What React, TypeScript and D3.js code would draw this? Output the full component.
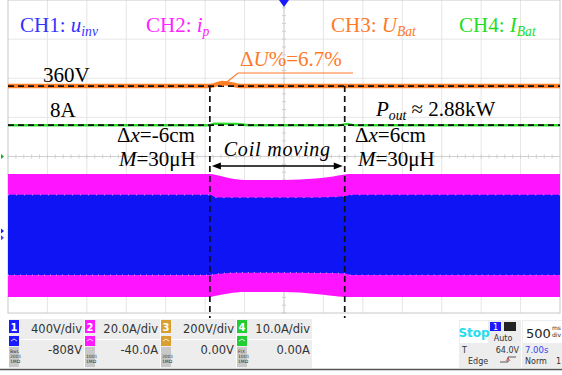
import React, { useEffect, useRef } from 'react';
import * as d3 from 'd3';

// time base: 500 ms/div, 14 divisions -> 7 s on screen
const timeS = [0, 2.56, 2.64, 2.8, 3.0, 3.5, 3.9, 4.1, 4.27, 4.35, 7];
// CH2 primary current envelope (A)
const ipTop = [31, 31, 30.5, 29, 28, 28, 28.7, 29.6, 30.8, 31, 31];
const ipBottom = [-31.8, -31.8, -31.2, -30, -29.3, -29.3, -30.3, -31.2, -31.8, -31.8, -31.8];
// CH1 inverter voltage envelope (V)
const uinvTop = [400, 400, 372, 372, 372, 372, 374, 378, 385, 400, 400];
const uinvBottom = [-420, -420, -410, -398, -396, -396, -398, -400, -405, -420, -420];
// CH3 battery voltage (V)
const uBatTime = [0, 2.56, 2.72, 2.97, 7];
const uBat = [360, 360, 376, 360, 360];
// CH4 battery current (A)
const iBatTime = [0, 2.56, 2.62, 2.9, 3.05, 4.2, 4.3, 4.4, 7];
const iBat = [8, 8, 8.4, 8.3, 8, 8, 8.3, 8, 8];
// cursor positions (s)
const cursors = [2.56, 4.27];

const channels = [
  { n: '1', color: '#1a1aff', scale: '400V/div', offset: '-808V', note: ['BwL', '2001', '1MΩ'] },
  { n: '2', color: '#ff1aff', scale: '20.0A/div', offset: '-40.0A', note: ['', '1001', '1MΩ'] },
  { n: '3', color: '#d9a030', scale: '200V/div', offset: '0.00V', note: ['', '2001', '1MΩ'] },
  { n: '4', color: '#22cc33', scale: '10.0A/div', offset: '0.00A', note: ['FIX', '1001', '1MΩ'] },
];

const W = 562;
const H = 375;
const serif = '"Liberation Serif", "Times New Roman", serif';
const sans = '"DejaVu Sans", sans-serif';

export default function App() {
  const ref = useRef<SVGSVGElement>(null);

  useEffect(() => {
    const svg = d3.select(ref.current);
    svg.selectAll('*').remove();

    const left = 8, right = 560, top = 0, bottom = 313;
    const x = d3.scaleLinear().domain([0, 7]).range([left, right]);
    const div = d3.scaleLinear().domain([0, 8]).range([bottom, top]);
    const y1 = d3.scaleLinear().domain([-808, 8 * 400 - 808]).range([bottom, top]);
    const y2 = d3.scaleLinear().domain([-40, 160 - 40]).range([bottom, top]);
    const y3 = d3.scaleLinear().domain([-800, 800]).range([bottom, top]);
    const y4 = d3.scaleLinear().domain([-40, 40]).range([bottom, top]);

    svg.append('rect').attr('width', W).attr('height', H).attr('fill', '#fff');

    // grid
    const g = svg.append('g');
    d3.range(1, 14).forEach(i => {
      g.append('line').attr('x1', x(i * 0.5)).attr('x2', x(i * 0.5))
        .attr('y1', top).attr('y2', bottom).attr('stroke', '#e6e6e6');
    });
    d3.range(1, 8).forEach(i => {
      g.append('line').attr('x1', left).attr('x2', right)
        .attr('y1', div(i)).attr('y2', div(i)).attr('stroke', '#e6e6e6');
    });
    // centre axes with minor ticks
    const cx = x(3.5), cy = div(4);
    g.append('line').attr('x1', cx).attr('x2', cx).attr('y1', top).attr('y2', bottom).attr('stroke', '#d0d0d0');
    g.append('line').attr('x1', left).attr('x2', right).attr('y1', cy).attr('y2', cy).attr('stroke', '#d0d0d0');
    d3.range(0, 70).forEach(i => {
      const xx = x(i * 0.1);
      g.append('line').attr('x1', xx).attr('x2', xx).attr('y1', cy - 2).attr('y2', cy + 2).attr('stroke', '#d0d0d0');
    });
    d3.range(0, 40).forEach(i => {
      const yy = div(i * 0.2);
      g.append('line').attr('x1', cx - 2).attr('x2', cx + 2).attr('y1', yy).attr('y2', yy).attr('stroke', '#d0d0d0');
    });
    g.append('rect').attr('x', left).attr('y', top).attr('width', right - left).attr('height', bottom - top)
      .attr('fill', 'none').attr('stroke', '#c8c8c8');

    // envelopes
    const idx = d3.range(timeS.length);
    const area = (yS: d3.ScaleLinear<number, number>, hi: number[], lo: number[]) =>
      d3.area<number>().x(i => x(timeS[i])).y0(i => yS(lo[i])).y1(i => yS(hi[i])).curve(d3.curveMonotoneX)(idx);
    svg.append('path').attr('d', area(y2, ipTop, ipBottom)).attr('fill', '#ff14ff');
    svg.append('path').attr('d', area(y1, uinvTop, uinvBottom)).attr('fill', '#0f14f5');
    const edge = (yS: d3.ScaleLinear<number, number>, v: number[]) =>
      d3.line<number>().x(i => x(timeS[i])).y(i => yS(v[i])).curve(d3.curveMonotoneX)(idx);
    svg.append('path').attr('d', edge(y1, uinvTop)).attr('fill', 'none')
      .attr('stroke', '#e8d8ff').attr('stroke-width', 0.8).attr('stroke-dasharray', '1 7');
    svg.append('path').attr('d', edge(y1, uinvBottom)).attr('fill', 'none')
      .attr('stroke', '#e8d8ff').attr('stroke-width', 0.8).attr('stroke-dasharray', '1 5');

    // DC traces
    const trace = (ts: number[], vs: number[], yS: d3.ScaleLinear<number, number>) =>
      d3.line<number>().x(i => x(ts[i])).y(i => yS(vs[i])).curve(d3.curveMonotoneX)(d3.range(ts.length));
    svg.append('path').attr('d', trace(uBatTime, uBat, y3)).attr('fill', 'none')
      .attr('stroke', '#ff7f27').attr('stroke-width', 4.5);
    svg.append('path').attr('d', trace(iBatTime, iBat, y4)).attr('fill', 'none')
      .attr('stroke', '#2ee02e').attr('stroke-width', 2.5);

    // dashed reference lines
    [y3(360), y4(8)].forEach(yy => {
      svg.append('line').attr('x1', left).attr('x2', right).attr('y1', yy).attr('y2', yy)
        .attr('stroke', '#111').attr('stroke-width', 1.7).attr('stroke-dasharray', '6 4');
    });
    cursors.forEach(t => {
      svg.append('line').attr('x1', x(t)).attr('x2', x(t)).attr('y1', y3(360)).attr('y2', bottom + 5)
        .attr('stroke', '#111').attr('stroke-width', 1.7).attr('stroke-dasharray', '6 4');
    });

    // markers
    svg.append('path').attr('d', `M${cx - 5},0 L${cx + 5},0 L${cx},7 Z`).attr('fill', '#1a1aff');
    svg.append('path').attr('d', `M1,${cy - 2.5} L4,${cy} L1,${cy + 2.5} Z`).attr('fill', '#22aa22');
    [y1(0) - 3, y2(0) + 3].forEach((yy, i) => {
      svg.append('path').attr('d', `M1,${yy - 2.5} L4,${yy} L1,${yy + 2.5} Z`)
        .attr('fill', i === 0 ? '#1a1aff' : '#4444ff');
    });

    // annotation text
    const txt = (xx: number, yy: number, color: string, parts: [string, string][], size = 21, anchor = 'start') => {
      const t = svg.append('text').attr('x', xx).attr('y', yy).attr('fill', color)
        .attr('font-family', serif).attr('font-size', size).attr('text-anchor', anchor);
      parts.forEach(([s, st]) => {
        const sp = t.append('tspan').text(s);
        if (st.includes('i')) sp.attr('font-style', 'italic');
        if (st.includes('s')) sp.attr('font-size', size * 0.65).attr('dy', 4);
        if (st.includes('r')) sp.attr('dy', -4);
      });
      return t;
    };
    txt(20, 32, '#3333ff', [['CH1: ', ''], ['u', 'i'], ['inv', 'is']]);
    txt(146, 32, '#ff22ff', [['CH2: ', ''], ['i', 'i'], ['p', 'is']]);
    txt(331, 32, '#ff7a26', [['CH3: ', ''], ['U', 'i'], ['Bat', 'is']]);
    txt(459, 32, '#22dd22', [['CH4: ', ''], ['I', 'i'], ['Bat', 'is']]);

    txt(240, 66, '#ff7a26', [['Δ', ''], ['U', 'i'], ['%=6.7%', '']]);
    svg.append('path').attr('d', `M222,86 L238,73 L353,73`).attr('fill', 'none')
      .attr('stroke', '#ff7a26').attr('stroke-width', 1.2);

    txt(43, 82, '#000', [['360V', '']]);
    txt(50, 117, '#000', [['8A', '']]);
    txt(376, 116, '#000', [['P', 'i'], ['out', 'is'], [' ≈ 2.88kW', 'r']]);

    txt(117, 142, '#000', [['Δ', ''], ['x', 'i'], ['=-6cm', '']]);
    txt(119, 166, '#000', [['M', 'i'], ['=30μH', '']]);
    txt(355, 142, '#000', [['Δ', ''], ['x', 'i'], ['=6cm', '']]);
    txt(358, 166, '#000', [['M', 'i'], ['=30μH', '']]);
    txt((x(cursors[0]) + x(cursors[1])) / 2, 156, '#000', [['Coil moving', 'i']], 20, 'middle')
      .attr('letter-spacing', 0.8);

    // double arrow
    const ay = 166, ax0 = x(cursors[0]) + 2, ax1 = x(cursors[1]) - 2;
    svg.append('line').attr('x1', ax0 + 4).attr('x2', ax1 - 4).attr('y1', ay).attr('y2', ay)
      .attr('stroke', '#000').attr('stroke-width', 1.3);
    svg.append('path').attr('d', `M${ax0},${ay} L${ax0 + 9},${ay - 3.5} L${ax0 + 9},${ay + 3.5} Z`).attr('fill', '#000');
    svg.append('path').attr('d', `M${ax1},${ay} L${ax1 - 9},${ay - 3.5} L${ax1 - 9},${ay + 3.5} Z`).attr('fill', '#000');

    // status bar
    const sb = svg.append('g');
    sb.append('line').attr('x1', 0).attr('x2', W).attr('y1', 369.5).attr('y2', 369.5)
      .attr('stroke', '#555').attr('stroke-width', 1.5);
    const cw = 76;
    channels.forEach((c, i) => {
      const x0 = 9 + i * cw;
      sb.append('rect').attr('x', x0).attr('y', 319).attr('width', cw - 1).attr('height', 49).attr('fill', '#ededed');
      sb.append('rect').attr('x', x0 + 11).attr('y', 339).attr('width', cw - 12).attr('height', 1).attr('fill', '#fff');
      sb.append('rect').attr('x', x0).attr('y', 320).attr('width', 10).attr('height', 13).attr('fill', c.color);
      sb.append('text').attr('x', x0 + 5).attr('y', 331).attr('text-anchor', 'middle').attr('fill', '#fff')
        .attr('font-family', sans).attr('font-size', 10).attr('font-weight', 'bold').text(c.n);
      sb.append('rect').attr('x', x0).attr('y', 336).attr('width', 10).attr('height', 10).attr('fill', c.color);
      sb.append('path').attr('d', `M${x0 + 2},${341} L${x0 + 5},${339} L${x0 + 8},${341}`).attr('fill', 'none')
        .attr('stroke', '#fff').attr('stroke-width', 0.8);
      sb.append('rect').attr('x', x0).attr('y', 347).attr('width', 10).attr('height', 20).attr('fill', '#c8c8c8');
      c.note.forEach((s, k) => {
        sb.append('text').attr('x', x0 + 1).attr('y', 353 + k * 5).attr('font-family', sans)
          .attr('font-size', 4.5).attr('fill', '#333').text(s);
      });
      sb.append('text').attr('x', x0 + cw - 3).attr('y', 333).attr('text-anchor', 'end')
        .attr('font-family', sans).attr('font-size', 11.5).attr('fill', '#333').text(c.scale);
      sb.append('text').attr('x', x0 + cw - 3).attr('y', 354).attr('text-anchor', 'end')
        .attr('font-family', sans).attr('font-size', 11.5).attr('fill', '#333').text(c.offset);
    });

    // trigger / timebase panel
    sb.append('rect').attr('x', 459).attr('y', 320).attr('width', 62).attr('height', 48).attr('fill', '#ededed');
    sb.append('rect').attr('x', 460).attr('y', 321).attr('width', 28).attr('height', 22).attr('fill', '#fff');
    sb.append('text').attr('x', 474).attr('y', 337).attr('text-anchor', 'middle').attr('font-family', sans)
      .attr('font-size', 12).attr('font-weight', 'bold').attr('fill', '#22ddee').text('Stop');
    sb.append('rect').attr('x', 490).attr('y', 322).attr('width', 11).attr('height', 9).attr('fill', '#1a1aff');
    sb.append('text').attr('x', 495.5).attr('y', 330).attr('text-anchor', 'middle').attr('font-family', sans)
      .attr('font-size', 8).attr('fill', '#fff').text('1');
    sb.append('rect').attr('x', 504).attr('y', 322).attr('width', 12).attr('height', 9).attr('fill', '#222');
    sb.append('text').attr('x', 503).attr('y', 341).attr('text-anchor', 'middle').attr('font-family', sans)
      .attr('font-size', 8).attr('fill', '#333').text('Auto');
    sb.append('text').attr('x', 462).attr('y', 353).attr('font-family', sans).attr('font-size', 8).attr('fill', '#333').text('T');
    sb.append('text').attr('x', 519).attr('y', 353).attr('text-anchor', 'end').attr('font-family', sans)
      .attr('font-size', 8).attr('fill', '#333').text('64.0V');
    sb.append('text').attr('x', 468).attr('y', 364).attr('font-family', sans).attr('font-size', 8).attr('fill', '#333').text('Edge');
    sb.append('path').attr('d', 'M500,362 L508,362 L508,357 L516,357').attr('fill', 'none').attr('stroke', '#333').attr('stroke-width', 0.8);
    sb.append('path').attr('d', 'M506,361 L508,358 L510,361').attr('fill', 'none').attr('stroke', '#e33').attr('stroke-width', 0.8);

    sb.append('rect').attr('x', 522).attr('y', 320).attr('width', 40).attr('height', 48).attr('fill', '#ededed');
    sb.append('rect').attr('x', 523).attr('y', 321).attr('width', 39).attr('height', 22).attr('fill', '#fff');
    sb.append('text').attr('x', 526).attr('y', 338).attr('font-family', sans).attr('font-size', 13).attr('fill', '#222').text('500');
    sb.append('text').attr('x', 552).attr('y', 330).attr('font-family', sans).attr('font-size', 6).attr('fill', '#222').text('ms');
    sb.append('text').attr('x', 552).attr('y', 337).attr('font-family', sans).attr('font-size', 6).attr('fill', '#222').text('div');
    sb.append('text').attr('x', 525).attr('y', 353).attr('font-family', sans).attr('font-size', 8.5).attr('fill', '#3344ee').text('7.00s');
    sb.append('text').attr('x', 525).attr('y', 364).attr('font-family', sans).attr('font-size', 8).attr('fill', '#333').text('Norm');
    sb.append('text').attr('x', 556).attr('y', 364).attr('font-family', sans).attr('font-size', 8).attr('fill', '#333').text('1');
  }, []);

  return (
    <div style={{ position: 'fixed', left: 0, top: 0 }}>
      <svg ref={ref} width={W} height={H} style={{ display: 'block' }} />
    </div>
  );
}
